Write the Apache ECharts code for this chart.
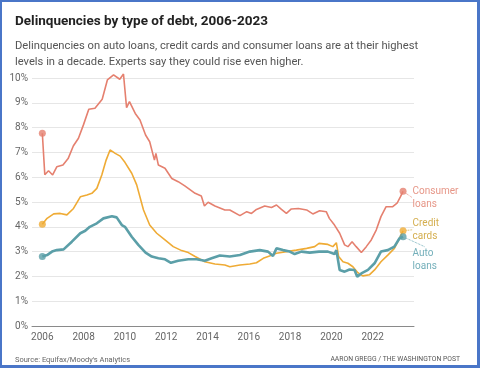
<!DOCTYPE html>
<html><head><meta charset="utf-8">
<script src="https://cdn.jsdelivr.net/npm/echarts@6/dist/echarts.min.js"></script>
<style>
html,body{margin:0;padding:0;background:#fff;}
#chart{position:absolute;left:0;top:0;width:484px;height:368px;}
#frame{position:absolute;left:0;top:0;width:480px;height:368px;box-sizing:border-box;border:solid #4a76c8;border-width:2px 3px 3px 2px;pointer-events:none;}
</style></head><body>
<div id="chart"></div><div id="frame"></div>
<script>
const TITLE = 'Delinquencies by type of debt, 2006-2023';
const SUBTITLE = 'Delinquencies on auto loans, credit cards and consumer loans are at their highest\nlevels in a decade. Experts say they could rise even higher.';
const SOURCE = "Source: Equifax/Moody's Analytics";
const CREDIT = 'AARON GREGG / THE WASHINGTON POST';
const xTickYears = [2006, 2008, 2010, 2012, 2014, 2016, 2018, 2020, 2022];
const yTicks = [0,1,2,3,4,5,6,7,8,9,10];

const consumerYears = [2006.0,2006.12,2006.3,2006.5,2006.7,2007.0,2007.25,2007.5,2007.75,2008.0,2008.25,2008.55,2008.9,2009.15,2009.45,2009.75,2009.93,2010.08,2010.22,2010.5,2010.73,2011.0,2011.2,2011.43,2011.5,2011.62,2011.94,2012.27,2012.58,2012.9,2013.4,2013.7,2013.85,2014.03,2014.36,2014.84,2015.08,2015.57,2015.9,2016.13,2016.37,2016.77,2017.1,2017.34,2017.58,2017.82,2018.06,2018.4,2018.8,2019.1,2019.43,2019.75,2019.9,2020.15,2020.4,2020.64,2020.8,2021.0,2021.2,2021.45,2021.69,2021.93,2022.17,2022.4,2022.65,2022.97,2023.18,2023.34,2023.47];
const consumerValues = [7.77,6.10,6.26,6.09,6.42,6.49,6.75,7.26,7.57,8.13,8.74,8.78,9.14,9.92,10.13,9.95,10.16,8.80,9.05,8.57,8.31,7.70,7.43,6.69,6.96,6.49,6.36,5.95,5.82,5.65,5.35,5.24,4.84,4.99,4.84,4.68,4.68,4.45,4.61,4.54,4.70,4.84,4.78,4.88,4.70,4.54,4.72,4.74,4.68,4.52,4.65,4.61,4.34,4.07,3.74,3.27,3.20,3.40,3.20,2.96,3.20,3.47,3.87,4.41,4.81,4.81,4.95,5.21,5.43];

const creditYears = [2006.0,2006.23,2006.55,2006.87,2007.19,2007.51,2007.84,2008.16,2008.4,2008.64,2008.88,2009.09,2009.28,2009.53,2009.77,2010.0,2010.33,2010.57,2010.9,2011.2,2011.54,2011.94,2012.34,2012.75,2013.07,2013.4,2013.87,2014.36,2014.84,2015.08,2015.57,2016.05,2016.37,2016.7,2017.0,2017.34,2017.82,2018.3,2018.8,2019.19,2019.4,2019.83,2020.07,2020.24,2020.35,2020.56,2020.8,2021.04,2021.28,2021.52,2021.85,2022.09,2022.4,2022.73,2023.05,2023.3,2023.47];
const creditValues = [4.10,4.34,4.52,4.54,4.48,4.74,5.21,5.28,5.35,5.55,6.09,6.69,7.10,6.96,6.85,6.60,6.16,5.69,4.68,4.07,3.74,3.47,3.20,3.04,2.96,2.80,2.59,2.50,2.46,2.39,2.46,2.50,2.55,2.73,2.82,2.93,3.00,3.06,3.13,3.20,3.33,3.29,3.20,3.36,2.80,2.59,2.53,2.39,2.15,2.02,2.07,2.26,2.59,2.86,3.13,3.54,3.84];

const autoYears = [2006.0,2006.23,2006.47,2006.7,2007.03,2007.43,2007.84,2008.08,2008.3,2008.64,2008.96,2009.37,2009.6,2009.85,2010.0,2010.33,2010.65,2011.0,2011.3,2011.62,2011.94,2012.23,2012.58,2013.07,2013.47,2013.87,2014.2,2014.6,2015.08,2015.57,2016.05,2016.53,2016.93,2017.17,2017.34,2017.66,2017.98,2018.22,2018.55,2018.95,2019.4,2019.83,2020.15,2020.24,2020.4,2020.64,2020.88,2021.12,2021.25,2021.45,2021.77,2022.09,2022.4,2022.73,2023.05,2023.3,2023.47];
const autoValues = [2.80,2.86,3.00,3.06,3.09,3.40,3.74,3.84,4.00,4.14,4.34,4.43,4.38,4.07,4.00,3.60,3.27,2.96,2.80,2.73,2.69,2.55,2.63,2.69,2.69,2.63,2.73,2.84,2.80,2.86,3.00,3.06,3.00,2.82,3.13,3.06,3.00,2.90,3.00,2.96,3.00,3.00,2.90,3.06,2.26,2.19,2.28,2.26,1.99,2.12,2.26,2.53,3.00,3.06,3.20,3.54,3.60];

const seriesNames = ['Consumer\nloans', 'Credit\ncards', 'Auto\nloans'];

const FONT = 'Roboto, "Liberation Sans", sans-serif';
const COLORS = ['#e5806f', '#efab35', '#5b9fa8'];
const LABEL_COLORS = ['#e07a68', '#c99a22', '#4f9aa8'];
const WIDTHS = [1.6, 1.6, 2.6];
const LABEL_DY = [6.5, -1, 23];

function zip(xs, ys) { return xs.map((x, i) => [x, ys[i]]); }
const allData = [zip(consumerYears, consumerValues), zip(creditYears, creditValues), zip(autoYears, autoValues)];

const series = [];
allData.forEach((d, i) => {
  series.push({
    type: 'line', data: d, showSymbol: false, silent: true, clip: false,
    lineStyle: { color: COLORS[i], width: WIDTHS[i] },
    z: 2 + i
  });
});
allData.forEach((d, i) => {
  series.push({
    type: 'scatter', symbolSize: 7, silent: true, z: 10, clip: false,
    itemStyle: { color: COLORS[i] },
    data: [
      { value: d[0] },
      { value: d[d.length - 1],
        label: { show: true, position: 'right', distance: 6, formatter: seriesNames[i],
          color: LABEL_COLORS[i], fontSize: 10, lineHeight: 13, fontFamily: FONT } }
    ],
    labelLayout: { dy: LABEL_DY[i] },
    labelLine: { show: true, lineStyle: { color: LABEL_COLORS[i], width: 0.8, type: 'dotted' } }
  });
});

const chart = echarts.init(document.getElementById('chart'), null, { renderer: 'canvas' });
chart.setOption({
  animation: false,
  backgroundColor: '#ffffff',
  title: [
    { text: TITLE, left: 10, top: 10, textStyle: { fontSize: 13.5, fontWeight: 'bold', color: '#222', fontFamily: FONT } },
    { text: SUBTITLE, left: 10, top: 33, textStyle: { fontSize: 11.2, fontWeight: 'normal', color: '#555', lineHeight: 16, fontFamily: FONT } },
    { text: SOURCE, left: 10, top: 351, textStyle: { fontSize: 7.5, fontWeight: 'normal', color: '#666', fontFamily: FONT } },
    { text: CREDIT, right: 19, top: 351, textStyle: { fontSize: 6.8, fontWeight: 'normal', color: '#555', fontFamily: FONT } }
  ],
  grid: { left: 32, right: 70, top: 78, bottom: 42, containLabel: false },
  xAxis: {
    type: 'value', min: 2005.5, max: 2024,
    axisLine: { show: true, lineStyle: { color: '#8a8a8a', width: 1 } },
    axisTick: { show: false },
    splitLine: { show: false },
    axisLabel: { customValues: xTickYears, formatter: v => String(v), color: '#666', fontSize: 10, margin: 6, fontFamily: FONT }
  },
  yAxis: {
    type: 'value', min: 0, max: 10, interval: 1,
    axisLine: { show: false }, axisTick: { show: false },
    splitLine: { lineStyle: { color: '#e6e6e6', width: 1 } },
    axisLabel: { formatter: '{value}%', color: '#666', fontSize: 10, margin: 4, fontFamily: FONT }
  },
  series: series
});
</script>
</body></html>
